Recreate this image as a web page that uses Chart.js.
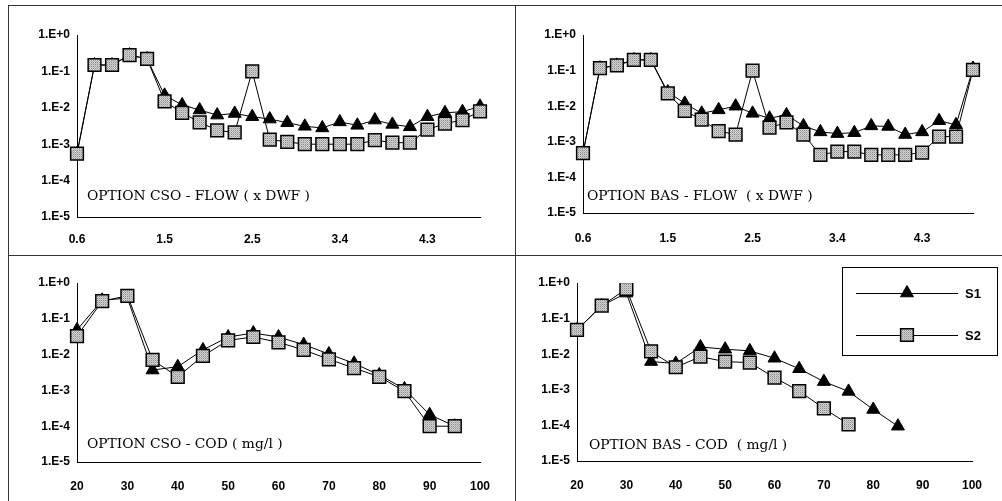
<!DOCTYPE html>
<html>
<head>
<meta charset="utf-8">
<script src="https://cdn.jsdelivr.net/npm/chart.js@4.4.0/dist/chart.umd.min.js"></script>
<style>
body { margin: 0; background: #fff; width: 1002px; height: 501px; overflow: hidden; position: relative; }
canvas { position: absolute; }
.ln { position: absolute; background: #333; }
.cap { position: absolute; font-family: "DejaVu Serif", "Liberation Serif", serif; font-size: 13.8px; color: #000; white-space: pre; line-height: 16px; }
</style>
</head>
<body>
<div class="ln" style="left:8px;top:5px;width:994px;height:1px"></div>
<div class="ln" style="left:8px;top:5px;width:1px;height:496px"></div>
<div class="ln" style="left:515px;top:5px;width:1px;height:496px"></div>
<div class="ln" style="left:8px;top:255px;width:994px;height:1px"></div>

<canvas id="csoFlow" width="506" height="249" style="left:9px;top:6px"></canvas>
<canvas id="basFlow" width="486" height="249" style="left:516px;top:6px"></canvas>
<canvas id="csoCod" width="506" height="245" style="left:9px;top:256px"></canvas>
<canvas id="basCod" width="486" height="245" style="left:516px;top:256px"></canvas>

<div class="cap" style="left:87px;top:187px">OPTION CSO - FLOW ( x DWF )</div>
<div class="cap" style="left:587px;top:187px">OPTION BAS - FLOW  ( x DWF )</div>
<div class="cap" style="left:87px;top:435px">OPTION CSO - COD ( mg/l )</div>
<div class="cap" style="left:589px;top:436px">OPTION BAS - COD  ( mg/l )</div>

<script>
// x categories (flow as multiple of DWF, COD in mg/l)
const flowLabels = ['0.6', '0.8', '1.0', '1.2', '1.3', '1.5', '1.7', '1.9', '2.1', '2.3', '2.5', '2.6',
                    '2.8', '3.0', '3.2', '3.4', '3.6', '3.7', '3.9', '4.1', '4.3', '4.5', '4.7', '4.9'];
const codLabels = ['20', '25', '30', '35', '40', '45', '50', '55', '60', '65', '70', '75', '80', '85', '90', '95', '100'];

// option CSO - flow
const csoFlowS1 = [5.5e-4, 0.15, 0.15, 0.28, 0.22, 0.022, 0.012, 0.0087, 0.0063, 0.007, 0.0057, 0.0049,
                   0.0039, 0.0031, 0.0028, 0.0041, 0.0033, 0.0046, 0.0035, 0.003, 0.0057, 0.0073, 0.0078, 0.011];
const csoFlowS2 = [5.5e-4, 0.15, 0.15, 0.28, 0.22, 0.015, 0.0073, 0.004, 0.0024, 0.0021, 0.1, 0.00134,
                   0.00116, 0.001, 0.001, 0.001, 0.001, 0.0013, 0.0011, 0.0011, 0.0025, 0.0037, 0.0046, 0.008];

// option BAS - flow
const basFlowS1 = [4.8e-4, 0.117, 0.14, 0.2, 0.2, 0.025, 0.012, 0.0063, 0.0079, 0.01, 0.0063, 0.0046,
                   0.0057, 0.0028, 0.0019, 0.0017, 0.0018, 0.0028, 0.0027, 0.0016, 0.0019, 0.0039, 0.003, 0.115];
const basFlowS2 = [4.8e-4, 0.117, 0.14, 0.2, 0.2, 0.023, 0.0074, 0.0042, 0.002, 0.0016, 0.1, 0.0025,
                   0.0035, 0.0016, 4.3e-4, 5.3e-4, 5.3e-4, 4.3e-4, 4.3e-4, 4.3e-4, 5e-4, 0.0014, 0.0014, 0.105];

// option CSO - COD
const csoCodS1 = [0.049, 0.33, 0.38, 0.0037, 0.0046, 0.0135, 0.031, 0.04, 0.031, 0.019, 0.0104, 0.0057,
                  0.0027, 0.0011, 2.1e-4, 1e-4, null];
const csoCodS2 = [0.033, 0.31, 0.44, 0.0071, 0.0024, 0.0092, 0.025, 0.031, 0.022, 0.0135, 0.0074, 0.0042,
                  0.0024, 9.5e-4, 1e-4, 1e-4, null];

// option BAS - COD
const basCodS1 = [0.048, 0.23, 0.52, 0.0062, 0.0055, 0.016, 0.0138, 0.0124, 0.0077, 0.0039, 0.0017, 9e-4,
                  2.8e-4, 9.5e-5, null, null, null];
const basCodS2 = [0.048, 0.23, 0.68, 0.012, 0.0043, 0.0085, 0.0062, 0.0058, 0.0022, 9.2e-4, 3e-4, 1.07e-4,
                  null, null, null, null, null];

const decades = [1e-5, 1e-4, 1e-3, 1e-2, 1e-1, 1];

// stippled grey fill for the squares
function stipple() {
    const c = document.createElement('canvas');
    c.width = 2; c.height = 2;
    const g = c.getContext('2d');
    g.fillStyle = '#d2d2d2';
    g.fillRect(0, 0, 2, 2);
    g.fillStyle = '#8c8c8c';
    g.fillRect(0, 0, 1, 1);
    g.fillStyle = '#b4b4b4';
    g.fillRect(1, 1, 1, 1);
    return g.createPattern(c, 'repeat');
}
const squareFill = stipple();

function makeDatasets(s1, s2) {
    // S2 first so the squares sit on top of the triangles
    return [
        {
            label: 'S2', data: s2, borderColor: '#000', borderWidth: 1, tension: 0,
            pointStyle: 'rect', pointRadius: 9, pointBorderWidth: 1.5,
            pointBorderColor: '#000', pointBackgroundColor: squareFill
        },
        {
            label: 'S1', data: s1, borderColor: '#000', borderWidth: 1, tension: 0,
            pointStyle: 'triangle', pointRadius: 7.5, pointBorderWidth: 1,
            pointBorderColor: '#000', pointBackgroundColor: '#000'
        }
    ];
}

// legend drawn as a boxed key: line with marker, then the name
const legendBox = {
    id: 'legendBox',
    afterDraw(chart) {
        const ctx = chart.ctx;
        ctx.save();
        ctx.strokeStyle = '#000';
        ctx.lineWidth = 1;
        ctx.strokeRect(326.5, 11.5, 155, 88);
        const rows = [chart.data.datasets[1], chart.data.datasets[0]];
        rows.forEach((ds, i) => {
            const y = 37 + i * 42;
            ctx.beginPath();
            ctx.moveTo(340, y + 0.5);
            ctx.lineTo(442, y + 0.5);
            ctx.stroke();
            ctx.fillStyle = ds.pointBackgroundColor;
            ctx.strokeStyle = ds.pointBorderColor;
            ctx.lineWidth = ds.pointBorderWidth;
            Chart.helpers.drawPoint(ctx, { pointStyle: ds.pointStyle, radius: ds.pointRadius, rotation: 0, borderWidth: ds.pointBorderWidth }, 391, y);
            ctx.fillStyle = '#000';
            ctx.font = 'bold 13px "Liberation Sans", Arial, sans-serif';
            ctx.textBaseline = 'middle';
            ctx.fillText(ds.label, 449, y + 1);
            ctx.strokeStyle = '#000';
            ctx.lineWidth = 1;
        });
        ctx.restore();
    }
};

function makeChart(id, labels, s1, s2, box, step, withLegend) {
    const tickFont = { family: '"Liberation Sans", Arial, sans-serif', size: 12, weight: 'bold' };
    new Chart(document.getElementById(id), {
        type: 'line',
        data: { labels: labels, datasets: makeDatasets(s1, s2) },
        plugins: withLegend ? [legendBox] : [],
        options: {
            responsive: false,
            animation: false,
            events: [],
            layout: { padding: { left: 0, top: box.top, right: box.right, bottom: 0 } },
            plugins: { legend: { display: false }, tooltip: { enabled: false } },
            scales: {
                x: {
                    type: 'category',
                    offset: false,
                    border: { display: true, color: '#000', width: 1 },
                    grid: { display: false, drawTicks: false },
                    ticks: { autoSkip: false, maxRotation: 0, color: '#000', font: tickFont, padding: box.xpad },
                    afterBuildTicks: s => { s.ticks = s.ticks.filter((t, i) => i % step === 0); },
                    afterFit: s => { s.height = box.xh; }
                },
                y: {
                    type: 'logarithmic',
                    min: 1e-5,
                    max: 1,
                    border: { display: true, color: '#000', width: 1 },
                    grid: { display: false, drawTicks: false },
                    ticks: {
                        color: '#000', font: tickFont, padding: 7,
                        callback: v => { const e = Math.round(Math.log10(v)); return '1.E' + (e === 0 ? '+0' : e); }
                    },
                    afterBuildTicks: s => { s.ticks = decades.map(v => ({ value: v })); },
                    afterFit: s => { s.width = box.left; }
                }
            }
        }
    });
}

makeChart('csoFlow', flowLabels, csoFlowS1, csoFlowS2, { left: 68, top: 29, right: 35, xh: 38, xpad: 15 }, 5, false);
makeChart('basFlow', flowLabels, basFlowS1, basFlowS2, { left: 67, top: 29, right: 29, xh: 42, xpad: 18 }, 5, false);
makeChart('csoCod', codLabels, csoCodS1, csoCodS2, { left: 68, top: 27, right: 35, xh: 39, xpad: 17 }, 2, false);
makeChart('basCod', codLabels, basCodS1, basCodS2, { left: 61, top: 27, right: 30, xh: 40, xpad: 17 }, 2, true);
</script>
</body>
</html>
